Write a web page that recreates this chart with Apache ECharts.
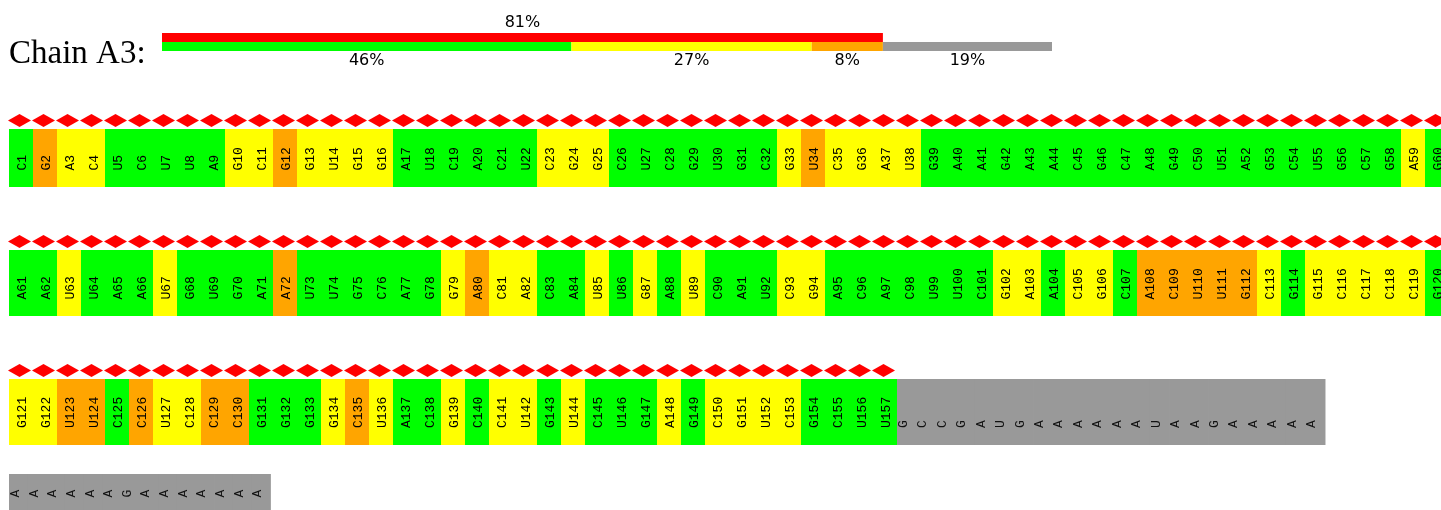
<!DOCTYPE html>
<html><head><meta charset="utf-8">
<script src="https://cdn.jsdelivr.net/npm/echarts@6/dist/echarts.min.js"></script>
<style>html,body{margin:0;padding:0;background:#fff}#c{width:1441px;height:510px}</style>
</head><body><div id="c"></div>
<script>
// ---------- DATA ----------
var chainName = 'Chain A3:';
// modelled residues 1..157 (one letter per residue)
var residueSequence =
  'CGACUCUUAG' + 'CGGUGGAUCA' + 'CUCGGCUCGU' + 'GCGUCGAUGA' + 'AGAACGCAGC' + 'UAGCUGCGAG' +
  'AAUUAAUGUG' + 'AAUUGCAGGA' + 'CACAUUGAUC' + 'AUCGACACUU' + 'CGAACGCACU' + 'UGCGGCCCCG' +
  'GGUUCCUCCC' + 'GGGGCUACGC' + 'CUGUCUGAGC' + 'GUCGCUU';
// quality class per residue: g = no outlier, y = one criterion, o = two criteria
var residueQuality =
  'goyygggggy' + 'yoyyyygggg' + 'ggyyyggggg' + 'ggyoyyyygg' + 'gggggggggg' + 'ggggggggyg' +
  'ggygggyggg' + 'goggggggyo' + 'yyggygygyg' + 'ggyygggggg' + 'gyygyygooo' + 'ooygyyyyyg' +
  'yyoogoyyoo' + 'gggyoyggyg' + 'yygygggygy' + 'yyygggg';
// unmodelled residues (grey), as they wrap over two lines
var unmodeledLine3 = 'GCCGAUGAAAAAAUAAGAAAAA';
var unmodeledLine4 = 'AAAAAAGAAAAAAA';
// summary bar
var summaryRows = ['outliers', 'quality'];
var outlierPercent = [81];
var qualityNames = ['green', 'yellow', 'orange', 'unmodeled'];
var qualityPercents = [46, 27, 8, 19];

// ---------- STYLE / LAYOUT ----------
var COLORS = { g: '#00ff00', y: '#ffff00', o: '#ffa500', u: '#999999', r: '#ff0000' };
var PER_ROW = 60;
var rowLayout = [
  { top: 129, bottom: 187, labelOff: 16.5, greyW: 0.81 },
  { top: 250, bottom: 316, labelOff: 16.5, greyW: 0.81 },
  { top: 379, bottom: 445, labelOff: 17, greyW: 0.81 },
  { top: 474, bottom: 510, labelOff: 12.5, greyW: 0.777 }
];
var labelFont = '13px "Liberation Mono", monospace';
var greyFont = '13px "Liberation Mono", monospace';

// ---------- BUILD ROWS ----------
var rowItems = [[], [], [], []];
for (var i = 0; i < residueSequence.length; i++) {
  var r = Math.floor(i / PER_ROW), k = i % PER_ROW;
  rowItems[r].push({ x0: k, x1: k + 1, cls: residueQuality[i], label: residueSequence[i] + (i + 1), modeled: true });
}
function addGrey(row, letters, start) {
  var w = rowLayout[row].greyW;
  for (var j = 0; j < letters.length; j++) {
    rowItems[row].push({ x0: start + j * w, x1: start + (j + 1) * w, cls: 'u', label: letters[j], modeled: false });
  }
}
addGrey(2, unmodeledLine3, rowItems[2].length);
addGrey(3, unmodeledLine4, 0);

var grids = [], xAxes = [], yAxes = [], series = [];
rowLayout.forEach(function (lay, row) {
  grids.push({ left: 9, top: lay.top, width: 24 * PER_ROW, height: lay.bottom - lay.top, outerBoundsMode: 'none', containLabel: false });
  xAxes.push({ type: 'value', gridIndex: row, min: 0, max: PER_ROW, show: false });
  yAxes.push({ type: 'value', gridIndex: row, min: 0, max: 1, show: false });
  (function (row, lay) {
    series.push({
      type: 'custom', xAxisIndex: row, yAxisIndex: row, silent: true, clip: false,
      data: rowItems[row].map(function (it) { return [it.x0, it.x1, 0]; }),
      encode: { x: [0, 1], y: 2 },
      renderItem: function (params, api) {
        var it = rowItems[row][params.dataIndex];
        var p0 = api.coord([api.value(0), 1]);
        var p1 = api.coord([api.value(1), 0]);
        var w = p1[0] - p0[0], h = p1[1] - p0[1];
        var tx = it.modeled ? p0[0] + w / 2 + 1.5 : p0[0] + 6.5;
        return {
          type: 'group',
          children: [
            { type: 'rect', shape: { x: p0[0], y: p0[1], width: w + (it.modeled ? 0 : 0.8), height: h }, style: { fill: COLORS[it.cls] } },
            { type: 'text', x: tx, y: p1[1] - lay.labelOff, rotation: Math.PI / 2,
              style: { text: it.label, fill: it.modeled ? '#000' : '#111', font: it.modeled ? labelFont : greyFont, align: 'left', verticalAlign: 'middle' } }
          ]
        };
      }
    });
    var modeled = rowItems[row].filter(function (it) { return it.modeled; });
    if (modeled.length) {
      series.push({
        type: 'scatter', xAxisIndex: row, yAxisIndex: row, silent: true, clip: false,
        symbol: 'diamond', symbolSize: [23, 13], symbolOffset: [-1.5, -8.5],
        itemStyle: { color: COLORS.r, opacity: 1 },
        data: modeled.map(function (it) { return [(it.x0 + it.x1) / 2, 1]; })
      });
    }
  })(row, lay);
});

// summary bar grid (index 4)
grids.push({ left: 162, top: 33, width: 890, height: 18, outerBoundsMode: 'none', containLabel: false });
xAxes.push({ type: 'value', gridIndex: 4, min: 0, max: 100, show: false });
yAxes.push({ type: 'category', gridIndex: 4, data: summaryRows, inverse: true, show: false });
var pctLabel = { show: true, formatter: '{c}%', color: '#000', fontFamily: 'DejaVu Sans', fontSize: 16, distance: 2 };
series.push({
  type: 'bar', xAxisIndex: 4, yAxisIndex: 4, stack: 'sum', barWidth: '100%', silent: true,
  itemStyle: { color: COLORS.r }, data: [outlierPercent[0], '-'],
  label: Object.assign({}, pctLabel, { position: 'top' })
});
var qColors = [COLORS.g, COLORS.y, COLORS.o, COLORS.u];
qualityPercents.forEach(function (v, i) {
  series.push({
    name: qualityNames[i], type: 'bar', xAxisIndex: 4, yAxisIndex: 4, stack: 'sum', barWidth: '100%', silent: true,
    itemStyle: { color: qColors[i] }, data: ['-', v],
    label: Object.assign({}, pctLabel, { position: 'bottom' })
  });
});

var chart = echarts.init(document.getElementById('c'), null, { renderer: 'canvas' });
chart.setOption({
  animation: false,
  backgroundColor: '#fff',
  title: { text: chainName, left: 9, top: 38, padding: 0,
    textStyle: { fontFamily: 'Liberation Serif', fontSize: 33, fontWeight: 'normal', color: '#000' } },
  grid: grids, xAxis: xAxes, yAxis: yAxes, series: series
});
</script></body></html>
